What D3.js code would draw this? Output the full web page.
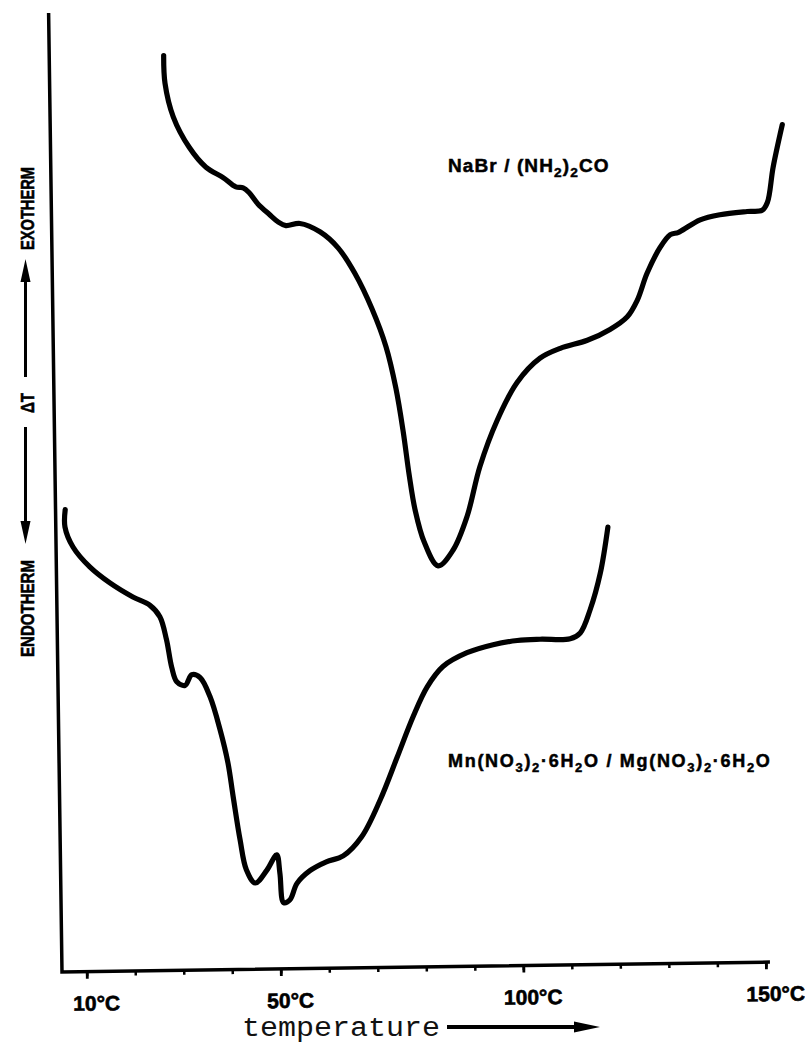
<!DOCTYPE html>
<html><head><meta charset="utf-8">
<script src="https://cdn.jsdelivr.net/npm/d3@7/dist/d3.min.js"></script>
<style>body{margin:0;background:#fff}svg{display:block}</style>
</head><body>
<svg id="chart" width="805" height="1046"></svg>
<script>
// ---- data (temperature in °C, ΔT in arbitrary units, 0–100 of full axis height) ----
const tickTemps = [10,20,30,40,50,60,70,80,90,100,110,120,130,140,150];
const labelTemps = [10,50,100,150];
const labelText = ["10°C","50°C","100°C","150°C"];

const nabrTemp = [28.5,28.7,30.3,33.5,36.9,40.4,43.0,44.5,45.7,47.5,49.8,51.6,53.2,56.1,60.2,63.9,67.3,70.7,73.5,75.4,76.8,77.9,79.0,80.8,83.6,86.7,89.7,92.5,96.2,100.4,105.2,109.4,115.0,119.7,123.3,125.4,127.5,130.3,132.4,134.0,135.1,138.6,142.7,148.3,151.4,152.5,153.8,155.8];
const nabrDT   = [95.4,92.5,89.0,85.8,83.7,82.6,81.6,81.5,81.0,79.8,78.7,77.9,77.5,77.7,76.8,75.1,72.4,68.7,64.7,60.4,55.8,51.3,47.7,44.3,41.8,43.4,46.9,52.1,56.9,60.8,63.3,64.3,65.1,66.2,67.5,69.2,72.0,74.7,76.0,76.2,76.5,77.5,78.0,78.3,78.4,79.2,82.9,87.3];

const mnTemp = [6.9,6.8,8.4,11.8,15.9,20.6,24.1,26.1,27.4,28.4,29.4,31.1,32.5,34.2,36.2,38.2,39.7,40.7,42.0,43.2,45.0,47.4,49.5,50.1,50.8,52.1,53.6,56.3,59.7,63.2,67.1,71.0,74.6,78.0,81.0,84.3,89.3,94.7,99.7,104.4,110.6,112.7,114.8,117.0,118.7];
const mnDT   = [48.2,46.4,44.3,42.2,40.5,39.0,38.1,36.9,34.5,31.6,30.1,29.7,30.8,30.5,28.5,25.0,21.6,18.0,13.5,10.4,9.0,10.3,11.9,10.0,6.9,7.2,8.9,10.2,11.1,11.7,13.7,17.5,21.9,26.1,29.2,31.3,32.7,33.5,33.9,34.0,34.0,34.6,37.0,40.8,45.6];

// ---- layout ----
const svg = d3.select("#chart");
const origin = [62, 972];
const axisLen = 708, axisH = 959;
const x = d3.scaleLinear().domain([10,150]).range([24.7, 703.9]);
const y = d3.scaleLinear().domain([0,100]).range([0, -axisH]);
const boldFont = "'Liberation Sans', Arial, sans-serif";

const g = svg.append("g")
  .attr("transform", `translate(${origin[0]},${origin[1]}) rotate(-0.8)`);

// axes frame
g.append("path")
  .attr("d", `M0,${-axisH} L0,0 L${axisLen},0`)
  .attr("fill","none").attr("stroke","#000").attr("stroke-width",3.5)
  .attr("stroke-linejoin","miter");

// minor ticks
g.append("g")
  .call(d3.axisBottom(x).tickValues(tickTemps).tickSize(4.5).tickFormat(""))
  .call(a => a.select(".domain").remove())
  .attr("color","#000")
  .selectAll("line").attr("stroke-width",2.5);

// major ticks + labels
const major = g.append("g")
  .call(d3.axisBottom(x).tickValues(labelTemps).tickSize(7).tickFormat((d,i)=>labelText[i]))
  .call(a => a.select(".domain").remove())
  .attr("color","#000");
major.selectAll("line").attr("stroke-width",2.8);
major.selectAll("text")
  .attr("y",39).attr("dy",0).attr("dx",9)
  .attr("font-family",boldFont)
  .attr("font-weight","bold").attr("font-size",21)
  .attr("letter-spacing",0)
  .attr("fill","#000").attr("stroke","#000").attr("stroke-width",0.6);

// curves
const line = d3.line()
  .x(d => x(d[0])).y(d => y(d[1]))
  .curve(d3.curveCatmullRom.alpha(0.5));

[[nabrTemp, nabrDT],[mnTemp, mnDT]].forEach(([tt, vv]) => {
  g.append("path")
    .datum(d3.zip(tt, vv))
    .attr("d", line)
    .attr("fill","none").attr("stroke","#000").attr("stroke-width",5.2)
    .attr("stroke-linecap","round").attr("stroke-linejoin","round");
});

// ---- annotations ----
function chem(parts, px, py, size, ls){
  const t = svg.append("text").attr("x",px).attr("y",py)
    .attr("font-family",boldFont).attr("font-weight","bold")
    .attr("font-size",size).attr("fill","#000")
    .attr("stroke","#000").attr("stroke-width",0.5)
    .attr("letter-spacing",ls);
  let down = false;
  parts.forEach(p => {
    if (typeof p === "string") {
      t.append("tspan").attr("dy", down ? -5 : 0).text(p); down = false;
    } else {
      t.append("tspan").attr("dy", down ? 0 : 5).attr("font-size", size*0.72).text(p.sub); down = true;
    }
  });
  return t;
}

chem(["NaBr / (NH",{sub:"2"},")",{sub:"2"},"CO"], 448, 172, 19, 1.1);
chem(["Mn(NO",{sub:"3"},")",{sub:"2"},"·6H",{sub:"2"},"O / Mg(NO",{sub:"3"},")",{sub:"2"},"·6H",{sub:"2"},"O"], 448, 767, 18, 1.7);

// x-axis title with arrow
svg.append("text").attr("x",242).attr("y",1036)
  .attr("font-family","'Liberation Mono', 'Courier New', monospace")
  .attr("font-size",27).attr("fill","#111")
  .attr("textLength",198).attr("lengthAdjust","spacingAndGlyphs")
  .text("temperature");
svg.append("path").attr("d","M447,1027 L578,1027").attr("stroke","#000").attr("stroke-width",4);
svg.append("path").attr("d","M574,1021.5 L600,1027 L574,1032.5 Z").attr("fill","#000");

// y-axis title (rotated)
const yl = svg.append("g").attr("transform","translate(33.5,0)");
function vText(txt, cy, len){
  yl.append("text").attr("transform",`translate(0,${cy}) rotate(-90)`)
    .attr("text-anchor","middle")
    .attr("font-family",boldFont).attr("font-weight","bold").attr("font-size",19)
    .attr("textLength",len).attr("lengthAdjust","spacingAndGlyphs")
    .attr("fill","#000").attr("stroke","#000").attr("stroke-width",0.6)
    .text(txt);
}
vText("EXOTHERM", 208.5, 83);
vText("ΔT", 403, 20);
vText("ENDOTHERM", 608.5, 97);
// arrows
svg.append("path").attr("d","M25.5,377 L25.5,276").attr("stroke","#000").attr("stroke-width",3);
svg.append("path").attr("d","M25.5,259 L20.5,282 L30.5,282 Z").attr("fill","#000");
svg.append("path").attr("d","M25.5,427 L25.5,527").attr("stroke","#000").attr("stroke-width",3);
svg.append("path").attr("d","M25.5,544 L20.5,521 L30.5,521 Z").attr("fill","#000");
</script>
</body></html>
